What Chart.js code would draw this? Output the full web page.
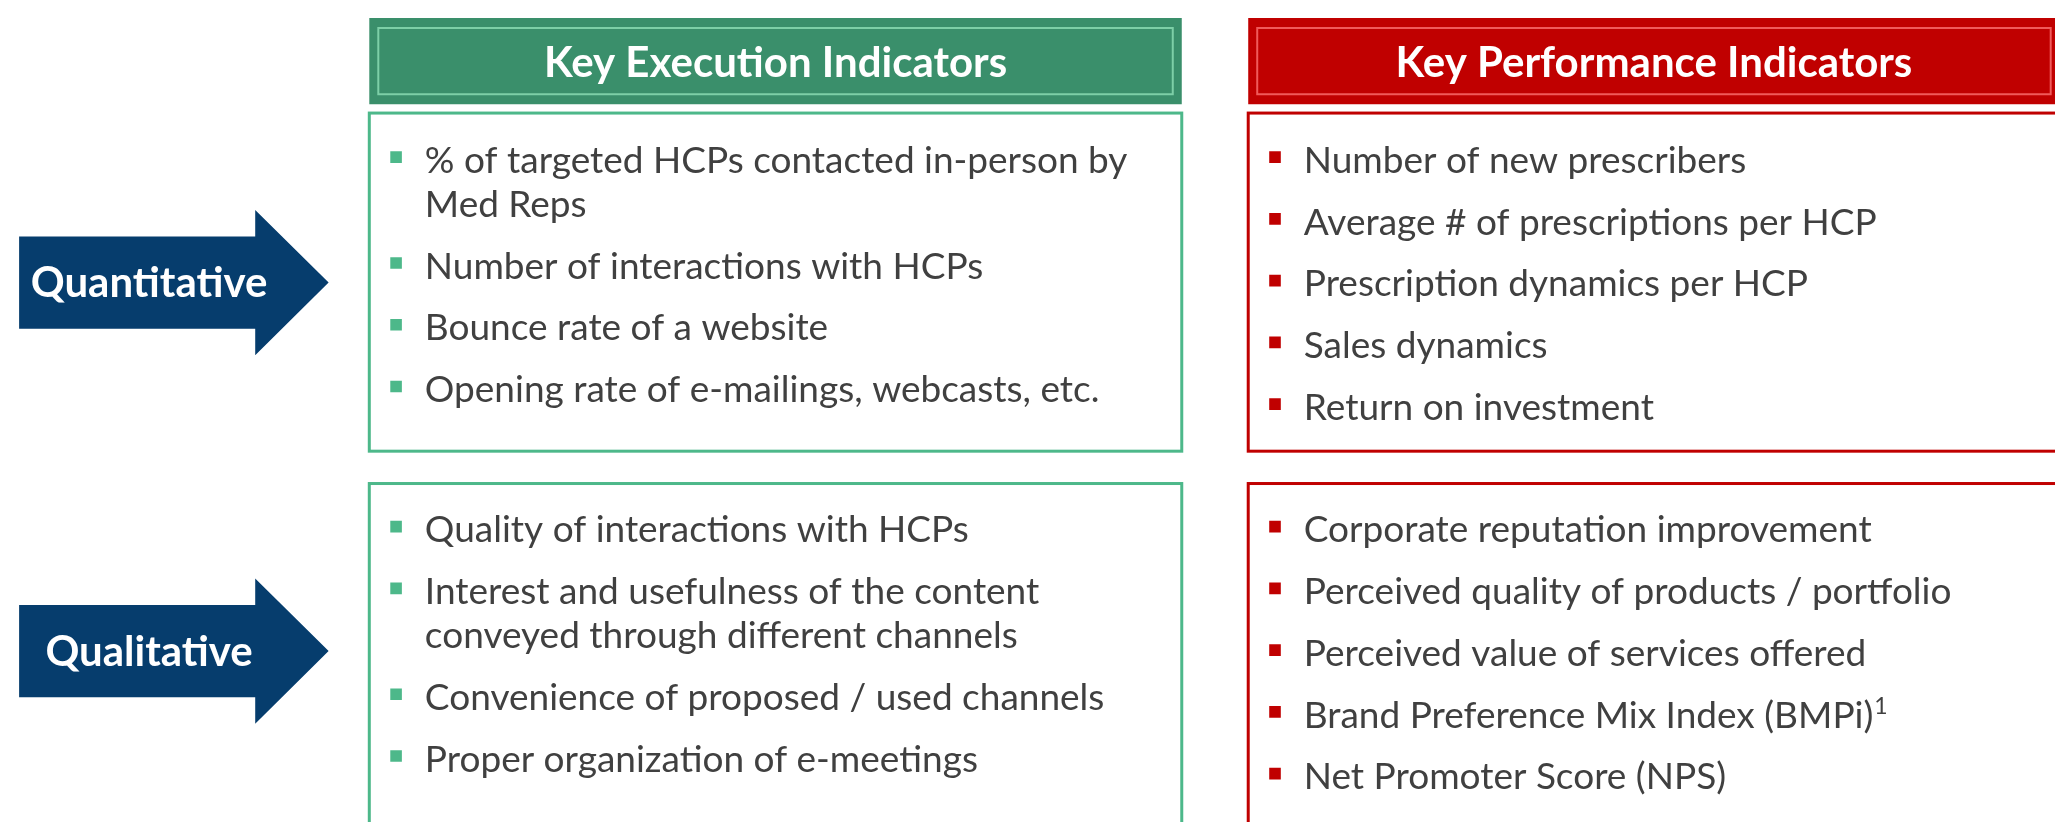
<!DOCTYPE html>
<html>
<head>
<meta charset="utf-8">
<script src="https://cdn.jsdelivr.net/npm/chart.js@4.4.1/dist/chart.umd.min.js"></script>
<style>
  html, body { margin: 0; padding: 0; background: #fff; }
  #wrap { width: 2055px; height: 822px; position: relative; }
</style>
</head>
<body>
<div id="wrap"><canvas id="kpiChart"></canvas></div>
<script>
// Column titles and row labels
var columnTitles = ['Key Execution Indicators', 'Key Performance Indicators'];
var rowLabels = ['Quantitative', 'Qualitative'];

// Bullet lists per cell ('\n' = line break, '^' = superscript)
var execQuantitative = [
    '% of targeted HCPs contacted in-person by\nMed Reps',
    'Number of interactions with HCPs',
    'Bounce rate of a website',
    'Opening rate of e-mailings, webcasts, etc.'
];
var perfQuantitative = [
    'Number of new prescribers',
    'Average # of prescriptions per HCP',
    'Prescription dynamics per HCP',
    'Sales dynamics',
    'Return on investment'
];
var execQualitative = [
    'Quality of interactions with HCPs',
    'Interest and usefulness of the content\nconveyed through different channels',
    'Convenience of proposed / used channels',
    'Proper organization of e-meetings'
];
var perfQualitative = [
    'Corporate reputation improvement',
    'Perceived quality of products / portfolio',
    'Perceived value of services offered',
    'Brand Preference Mix Index (BMPi)^1',
    'Net Promoter Score (NPS)'
];

// Colours
var greenHead = '#3a8f6b', greenLine = '#4db88a', greenSoft = '#7dcfa7';
var redHead = '#c00000', redLine = '#c00000', redSoft = '#f05a5a';
var navy = '#063d6d', textGray = '#404040';

// Layout (value space = canvas pixels)
var W = 2055, H = 822;
var LINE_GAP = 45, ITEM_GAP = 63;
var cols = [
    { x0: 364, x1: 1183, head: greenHead, line: greenLine, soft: greenSoft },
    { x0: 1250, x1: 2068, head: redHead, line: redLine, soft: redSoft }
];
var header = { y0: 10, y1: 98, base: 70 };
var rows = [
    { y0: 107, y1: 452, first: 168, arrowY: 280 },
    { y0: 485, y1: 850, first: 545, arrowY: 656 }
];
var cells = [[execQuantitative, perfQuantitative], [execQualitative, perfQualitative]];

var FONT = 'Lato, "Open Sans", sans-serif';

// baselines for every line of every item in a cell
function layoutCell(items, first) {
    var out = [], y = first;
    items.forEach(function(item, i) {
        var lines = item.split('\n');
        if (i > 0) y += ITEM_GAP;
        var bases = [];
        lines.forEach(function(l, j) {
            if (j > 0) y += LINE_GAP;
            bases.push(y);
        });
        out.push({ lines: lines, bases: bases });
    });
    return out;
}

var layouts = rows.map(function(r, ri) {
    return cols.map(function(c, ci) { return layoutCell(cells[ri][ci], r.first); });
});

// bullet squares, one point per item
function bulletPoints(ci) {
    var pts = [];
    rows.forEach(function(r, ri) {
        layouts[ri][ci].forEach(function(it) {
            pts.push({ x: cols[ci].x0 + 27, y: it.bases[0] - 16 });
        });
    });
    return pts;
}

var boardPlugin = {
    id: 'board',
    beforeDatasetsDraw: function(chart) {
        var ctx = chart.ctx, sx = chart.scales.x, sy = chart.scales.y;
        function px(v) { return sx.getPixelForValue(v); }
        function py(v) { return sy.getPixelForValue(v); }
        ctx.save();

        // arrows
        rows.forEach(function(r, ri) {
            var cy = r.arrowY;
            ctx.fillStyle = navy;
            ctx.beginPath();
            ctx.moveTo(px(11), py(cy - 47));
            ctx.lineTo(px(249), py(cy - 47));
            ctx.lineTo(px(249), py(cy - 74));
            ctx.lineTo(px(323), py(cy));
            ctx.lineTo(px(249), py(cy + 74));
            ctx.lineTo(px(249), py(cy + 47));
            ctx.lineTo(px(11), py(cy + 47));
            ctx.closePath();
            ctx.fill();
            ctx.fillStyle = '#fff';
            ctx.font = 'bold 42px ' + FONT;
            ctx.textAlign = 'center';
            ctx.textBaseline = 'alphabetic';
            ctx.fillText(rowLabels[ri], px(142), py(cy + 15));
        });

        // headers
        cols.forEach(function(c, ci) {
            var x0 = px(c.x0), x1 = px(c.x1), y0 = py(header.y0), y1 = py(header.y1);
            ctx.fillStyle = c.head;
            ctx.fillRect(x0, y0, x1 - x0, y1 - y0);
            ctx.strokeStyle = c.soft;
            ctx.lineWidth = 2;
            ctx.strokeRect(x0 + 9, y0 + 10, x1 - x0 - 18, y1 - y0 - 20);
            ctx.fillStyle = '#fff';
            ctx.font = 'bold 42px ' + FONT;
            ctx.textAlign = 'center';
            ctx.fillText(columnTitles[ci], (x0 + x1) / 2, py(header.base));
        });

        // boxes and bullet text
        rows.forEach(function(r, ri) {
            cols.forEach(function(c, ci) {
                ctx.strokeStyle = c.line;
                ctx.lineWidth = 3;
                ctx.strokeRect(px(c.x0), py(r.y0), px(c.x1) - px(c.x0), py(r.y1) - py(r.y0));
                ctx.fillStyle = textGray;
                ctx.textAlign = 'left';
                layouts[ri][ci].forEach(function(it) {
                    it.lines.forEach(function(line, j) {
                        var parts = line.split('^');
                        var tx = px(c.x0 + 56), ty = py(it.bases[j]);
                        ctx.font = '37px ' + FONT;
                        ctx.fillText(parts[0], tx, ty);
                        if (parts[1]) {
                            var w = ctx.measureText(parts[0]).width;
                            ctx.font = '23px ' + FONT;
                            ctx.fillText(parts[1], tx + w + 1, ty - 14);
                        }
                    });
                });
            });
        });
        ctx.restore();
    }
};

var ctx = document.getElementById('kpiChart').getContext('2d');
var kpiChart = new Chart(ctx, {
    type: 'scatter',
    data: {
        datasets: [{
            label: 'Execution bullets',
            data: bulletPoints(0),
            pointStyle: 'rect',
            pointRadius: 8.2,
            backgroundColor: greenLine,
            borderWidth: 0
        }, {
            label: 'Performance bullets',
            data: bulletPoints(1),
            pointStyle: 'rect',
            pointRadius: 8.2,
            backgroundColor: redHead,
            borderWidth: 0
        }]
    },
    options: {
        responsive: true,
        maintainAspectRatio: false,
        animation: false,
        events: [],
        layout: { padding: 0 },
        plugins: {
            legend: { display: false },
            tooltip: { enabled: false }
        },
        scales: {
            x: { type: 'linear', min: 0, max: W, display: false },
            y: { type: 'linear', min: 0, max: H, reverse: true, display: false }
        }
    },
    plugins: [boardPlugin]
});
</script>
</body>
</html>
